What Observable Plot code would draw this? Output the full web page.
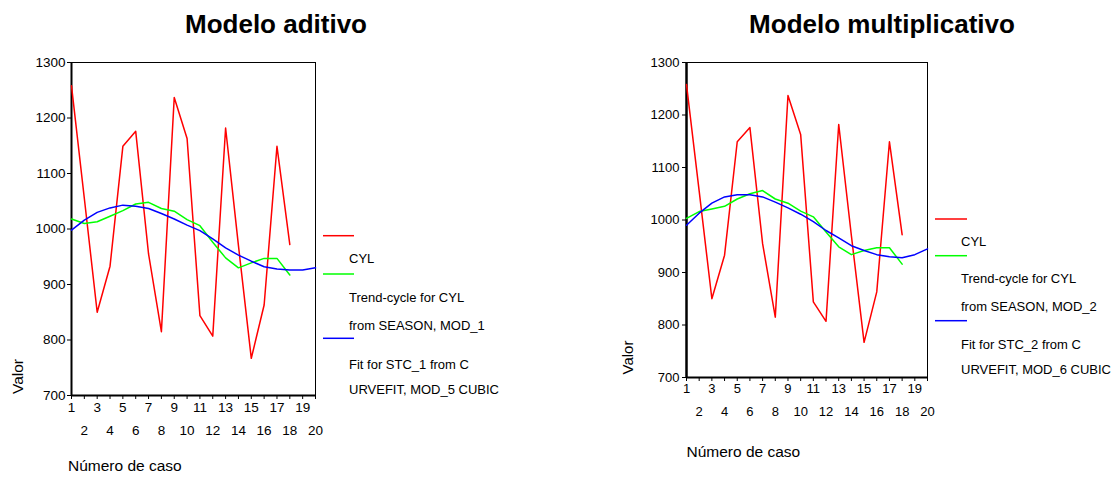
<!DOCTYPE html>
<html>
<head>
<meta charset="utf-8">
<script src="https://cdn.jsdelivr.net/npm/d3@7"></script>
<script src="https://cdn.jsdelivr.net/npm/@observablehq/plot@0.6"></script>
<style>
  html, body { margin: 0; padding: 0; background: white; }
  #root { position: relative; width: 1116px; height: 479px; overflow: hidden; font-family: "Liberation Sans", Arial, sans-serif; }
  #root > svg { position: absolute; top: 0; }
</style>
</head>
<body>
<div id="root"></div>
<script>
// ---- data ----
const cases = d3.range(1, 21);
const cyl = [1258, 1055, 850, 933, 1149, 1176, 955, 815, 1237, 1163, 844, 807, 1182, 970, 767, 863, 1149, 972];
const trendAdd = [1018, 1010, 1013, 1023, 1033, 1045, 1048, 1037, 1032, 1017, 1006, 976, 948, 930, 939, 947, 947, 917];
const fitAdd = [998, 1016, 1030, 1038, 1043, 1041, 1037, 1028, 1018, 1007, 997, 982, 966, 953, 942, 932, 928, 926, 926, 930];
const trendMul = [1003, 1016, 1021, 1026, 1040, 1050, 1056, 1040, 1032, 1017, 1006, 977, 949, 934, 942, 947, 947, 916];
const fitMul = [990, 1013, 1032, 1044, 1048, 1048, 1044, 1034, 1023, 1011, 997, 980, 966, 951, 942, 934, 930, 928, 934, 945];
const yTicks = [700, 800, 900, 1000, 1100, 1200, 1300];
const xOdd = cases.filter(d => d % 2 === 1);
const xEven = cases.filter(d => d % 2 === 0);
const titles = ["Modelo aditivo", "Modelo multiplicativo"];
const seriesColors = ["#ff0000", "#00ff00", "#0000ff"];
const legendAdd = [["CYL"], ["Trend-cycle for CYL", "from SEASON, MOD_1"], ["Fit for STC_1 from C", "URVEFIT, MOD_5 CUBIC"]];
const legendMul = [["CYL"], ["Trend-cycle for CYL", "from SEASON, MOD_2"], ["Fit for STC_2 from C", "URVEFIT, MOD_6 CUBIC"]];
const yLabel = "Valor";
const xLabel = "Número de caso";

const toRows = arr => arr.map((v, i) => ({caso: cases[i], valor: v}));

function chart(cfg) {
  const fs = cfg.fontSize;
  return Plot.plot({
    width: cfg.width, height: 479,
    marginLeft: cfg.ml, marginRight: cfg.mr, marginTop: cfg.mt, marginBottom: cfg.mb,
    x: {domain: [1, 20], axis: null},
    y: {domain: [700, 1300], axis: null},
    style: {fontFamily: "Liberation Sans, Arial, sans-serif", background: "white", color: "black"},
    marks: [
      Plot.frame({stroke: "black", strokeWidth: 1}),
      Plot.axisY(yTicks, {tickSize: 4, tickPadding: cfg.yPad, fontSize: fs, label: null, tickFormat: d => String(d)}),
      Plot.axisX(xOdd, {tickSize: 4, tickPadding: cfg.xPad1, fontSize: fs, label: null, tickFormat: d => String(d)}),
      Plot.axisX(xEven, {tickSize: 4, tickPadding: cfg.xPad2, fontSize: fs, label: null, tickFormat: d => String(d)}),
      Plot.ruleX([1], {stroke: "black", strokeWidth: cfg.axisW}),
      Plot.ruleY([700], {stroke: "black", strokeWidth: 2}),
      Plot.line(toRows(cyl), {x: "caso", y: "valor", stroke: seriesColors[0], strokeWidth: 1.5}),
      Plot.line(toRows(cfg.trend), {x: "caso", y: "valor", stroke: seriesColors[1], strokeWidth: 1.5}),
      Plot.line(toRows(cfg.fit), {x: "caso", y: "valor", stroke: seriesColors[2], strokeWidth: 1.5})
    ]
  });
}

const root = document.getElementById("root");
const c1 = chart({width: 330, ml: 71, mr: 15, mt: 62, mb: 84, fontSize: 13.5, yPad: 2, xPad1: 3, xPad2: 26, axisW: 2, trend: trendAdd, fit: fitAdd});
c1.style.left = "0px";
root.appendChild(c1);
const c2 = chart({width: 330, ml: 76, mr: 13, mt: 62, mb: 102, fontSize: 13, yPad: 3, xPad1: 2, xPad2: 25, axisW: 2.5, trend: trendMul, fit: fitMul});
c2.style.left = "610px";
root.appendChild(c2);

// overlay texts and legends
const ov = d3.select(root).append("svg")
  .attr("width", 1116).attr("height", 479)
  .style("left", "0px").style("pointer-events", "none")
  .attr("font-family", "Liberation Sans, Arial, sans-serif");

const panels = [
  {title: titles[0], tx: 276, legend: legendAdd, lx0: 323, lx1: 354, tx0: 349,
   lineY: [235.7, 274, 338.3], textY: [[263.3], [301.7, 330], [369, 394.3]],
   vx: 23, vy: 376.5, vfs: 15.5, nx: 68, ny: 471, nfs: 15.5},
  {title: titles[1], tx: 882, legend: legendMul, lx0: 935, lx1: 967, tx0: 961,
   lineY: [219, 255.7, 320.7], textY: [[245.7], [283.3, 310.7], [349, 374]],
   vx: 632.5, vy: 357.5, vfs: 15, nx: 686.5, ny: 457, nfs: 15.5}
];

panels.forEach(p => {
  ov.append("text").attr("x", p.tx).attr("y", 33.3).attr("text-anchor", "middle")
    .attr("font-weight", "bold").attr("font-size", 26).text(p.title);
  ov.append("text").attr("transform", `translate(${p.vx},${p.vy}) rotate(-90)`)
    .attr("text-anchor", "middle").attr("font-size", p.vfs).text(yLabel);
  ov.append("text").attr("x", p.nx).attr("y", p.ny).attr("font-size", p.nfs).text(xLabel);
  p.legend.forEach((lines, i) => {
    ov.append("line").attr("x1", p.lx0).attr("x2", p.lx1).attr("y1", p.lineY[i]).attr("y2", p.lineY[i])
      .attr("stroke", seriesColors[i]).attr("stroke-width", 1.5);
    lines.forEach((t, j) => {
      ov.append("text").attr("x", p.tx0).attr("y", p.textY[i][j]).attr("font-size", 13).text(t);
    });
  });
});
</script>
</body>
</html>
